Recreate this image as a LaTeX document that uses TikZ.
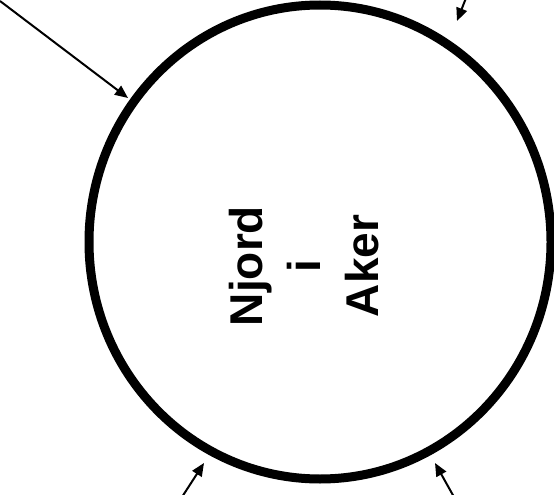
\documentclass[tikz,border=0pt]{standalone}
\usepackage{fontspec}
\setmainfont{Liberation Sans}
\usetikzlibrary{shapes.geometric,arrows.meta}
\tikzset{
  ring/.style={draw=black, ellipse, line width=9pt, inner sep=0pt, minimum width=462pt, minimum height=474pt},
  label/.style={rotate=90, align=center, font=\fontsize{46}{58}\selectfont\bfseries, inner sep=0pt},
  arr/.style={line width=2pt, -{Triangle[length=13pt,width=11pt]}}
}
\begin{document}
\begin{tikzpicture}[x=1pt,y=-1pt]
\useasboundingbox (0,0) rectangle (554,495);
\node[ring] (c) at (320,242) {};
\node[label] (t) at (304,266) {Njord\\i\\Aker};
\coordinate (a1s) at (0,1);
\coordinate (a1e) at (128,98);
\coordinate (a2s) at (466,-2);
\coordinate (a2e) at (457,21);
\coordinate (a3s) at (182,497);
\coordinate (a3e) at (204,463);
\coordinate (a4s) at (454,497);
\coordinate (a4e) at (435,463);
\draw[arr] (a1s) -- (a1e);
\draw[arr] (a2s) -- (a2e);
\draw[arr] (a3s) -- (a3e);
\draw[arr] (a4s) -- (a4e);
\end{tikzpicture}
\end{document}
